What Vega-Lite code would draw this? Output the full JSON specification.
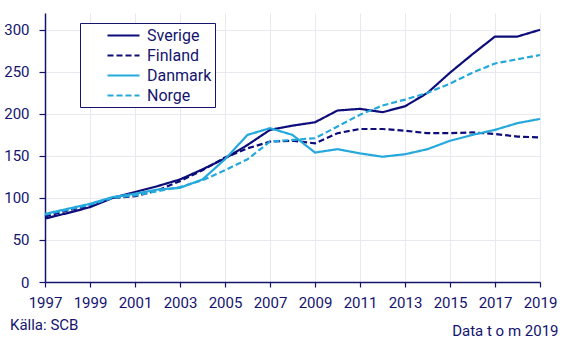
{
  "$schema": "https://vega.github.io/schema/vega-lite/v6.json",
  "width": 495,
  "height": 269,
  "autosize": {"type": "none"},
  "padding": {"left": 45, "top": 13, "right": 45, "bottom": 79},
  "background": "white",
  "title": {"text": "Källa: SCB", "orient": "bottom", "anchor": "start", "frame": "group", "dx": -35, "offset": -20, "fontSize": 15, "fontWeight": "normal", "color": "#14146e", "font": "Roboto"},
  "config": {
    "font": "Roboto",
    "view": {"stroke": null},
    "axis": {"labelColor": "#14146e", "labelFontSize": 15, "domainColor": "#14146e", "tickColor": "#14146e", "domainWidth": 1.5, "tickWidth": 1.2, "gridColor": "#e8e8ef", "gridWidth": 1, "titleColor": "#14146e"},
    "legend": {"orient": "none", "legendX": 35, "legendY": 10, "strokeColor": "#14146e", "fillColor": "white", "padding": 3, "labelFontSize": 16, "labelColor": "#14146e", "symbolType": "M-2,0H2", "symbolSize": 256, "symbolStrokeWidth": 2.2, "symbolOffset": 31, "labelOffset": 14, "rowPadding": 2, "title": null}
  },
  "data": {"values": [
    {"country":"Sverige","year":1997,"value":75.5},{"country":"Sverige","year":1998,"value":82},{"country":"Sverige","year":1999,"value":89},{"country":"Sverige","year":2000,"value":100},{"country":"Sverige","year":2001,"value":107},{"country":"Sverige","year":2002,"value":114},{"country":"Sverige","year":2003,"value":122},{"country":"Sverige","year":2004,"value":134},{"country":"Sverige","year":2005,"value":147},{"country":"Sverige","year":2006,"value":163},{"country":"Sverige","year":2007,"value":181},{"country":"Sverige","year":2008,"value":186},{"country":"Sverige","year":2009,"value":190},{"country":"Sverige","year":2010,"value":204},{"country":"Sverige","year":2011,"value":206},{"country":"Sverige","year":2012,"value":202},{"country":"Sverige","year":2013,"value":209},{"country":"Sverige","year":2014,"value":225},{"country":"Sverige","year":2015,"value":249},{"country":"Sverige","year":2016,"value":271},{"country":"Sverige","year":2017,"value":292},{"country":"Sverige","year":2018,"value":292},{"country":"Sverige","year":2019,"value":300},
    {"country":"Finland","year":1997,"value":78},{"country":"Finland","year":1998,"value":85},{"country":"Finland","year":1999,"value":91},{"country":"Finland","year":2000,"value":100},{"country":"Finland","year":2001,"value":102},{"country":"Finland","year":2002,"value":109},{"country":"Finland","year":2003,"value":120},{"country":"Finland","year":2004,"value":133},{"country":"Finland","year":2005,"value":148},{"country":"Finland","year":2006,"value":159},{"country":"Finland","year":2007,"value":167},{"country":"Finland","year":2008,"value":168},{"country":"Finland","year":2009,"value":165},{"country":"Finland","year":2010,"value":177},{"country":"Finland","year":2011,"value":182},{"country":"Finland","year":2012,"value":182},{"country":"Finland","year":2013,"value":180},{"country":"Finland","year":2014,"value":177},{"country":"Finland","year":2015,"value":177},{"country":"Finland","year":2016,"value":178},{"country":"Finland","year":2017,"value":176},{"country":"Finland","year":2018,"value":173},{"country":"Finland","year":2019,"value":172},
    {"country":"Danmark","year":1997,"value":81},{"country":"Danmark","year":1998,"value":87},{"country":"Danmark","year":1999,"value":93},{"country":"Danmark","year":2000,"value":101},{"country":"Danmark","year":2001,"value":105},{"country":"Danmark","year":2002,"value":110},{"country":"Danmark","year":2003,"value":112},{"country":"Danmark","year":2004,"value":122},{"country":"Danmark","year":2005,"value":146},{"country":"Danmark","year":2006,"value":175},{"country":"Danmark","year":2007,"value":183},{"country":"Danmark","year":2008,"value":175},{"country":"Danmark","year":2009,"value":154},{"country":"Danmark","year":2010,"value":158},{"country":"Danmark","year":2011,"value":153},{"country":"Danmark","year":2012,"value":149},{"country":"Danmark","year":2013,"value":152},{"country":"Danmark","year":2014,"value":158},{"country":"Danmark","year":2015,"value":168},{"country":"Danmark","year":2016,"value":175},{"country":"Danmark","year":2017,"value":181},{"country":"Danmark","year":2018,"value":189},{"country":"Danmark","year":2019,"value":194},
    {"country":"Norge","year":1997,"value":80},{"country":"Norge","year":1998,"value":86},{"country":"Norge","year":1999,"value":92},{"country":"Norge","year":2000,"value":100},{"country":"Norge","year":2001,"value":103},{"country":"Norge","year":2002,"value":108},{"country":"Norge","year":2003,"value":113},{"country":"Norge","year":2004,"value":121},{"country":"Norge","year":2005,"value":133},{"country":"Norge","year":2006,"value":146},{"country":"Norge","year":2007,"value":167},{"country":"Norge","year":2008,"value":169},{"country":"Norge","year":2009,"value":171},{"country":"Norge","year":2010,"value":185},{"country":"Norge","year":2011,"value":199},{"country":"Norge","year":2012,"value":210},{"country":"Norge","year":2013,"value":217},{"country":"Norge","year":2014,"value":225},{"country":"Norge","year":2015,"value":236},{"country":"Norge","year":2016,"value":249},{"country":"Norge","year":2017,"value":260},{"country":"Norge","year":2018,"value":265},{"country":"Norge","year":2019,"value":270}
  ]},
  "mark": {"type": "line", "strokeWidth": 2.2},
  "encoding": {
    "x": {"field": "year", "type": "quantitative", "scale": {"domain": [1997, 2019], "nice": false, "zero": false},
      "axis": {"values": [1997,1999,2001,2003,2005,2007,2009,2011,2013,2015,2017,2019], "format": "d", "grid": true, "tickSize": 5, "labelPadding": 8, "labelFlush": false,
        "title": "Data t o m 2019", "titleFontSize": 15, "titleFontWeight": "normal", "titleAnchor": "end", "titleAlign": "right", "titleX": 513, "titleY": 53, "titleBaseline": "alphabetic"}},
    "y": {"field": "value", "type": "quantitative", "scale": {"domain": [0, 320], "nice": false},
      "axis": {"values": [0,50,100,150,200,250,300], "grid": true, "tickSize": 6, "labelPadding": 10, "title": null}},
    "color": {"field": "country", "type": "nominal", "sort": ["Sverige","Finland","Danmark","Norge"],
      "scale": {"domain": ["Sverige","Finland","Danmark","Norge"], "range": ["#0c0c7a","#0c0c7a","#25a9dc","#25a9dc"]}},
    "strokeDash": {"field": "country", "type": "nominal", "sort": ["Sverige","Finland","Danmark","Norge"],
      "scale": {"domain": ["Sverige","Finland","Danmark","Norge"], "range": [[1,0],[6,3],[1,0],[6,3]]}}
  }
}
